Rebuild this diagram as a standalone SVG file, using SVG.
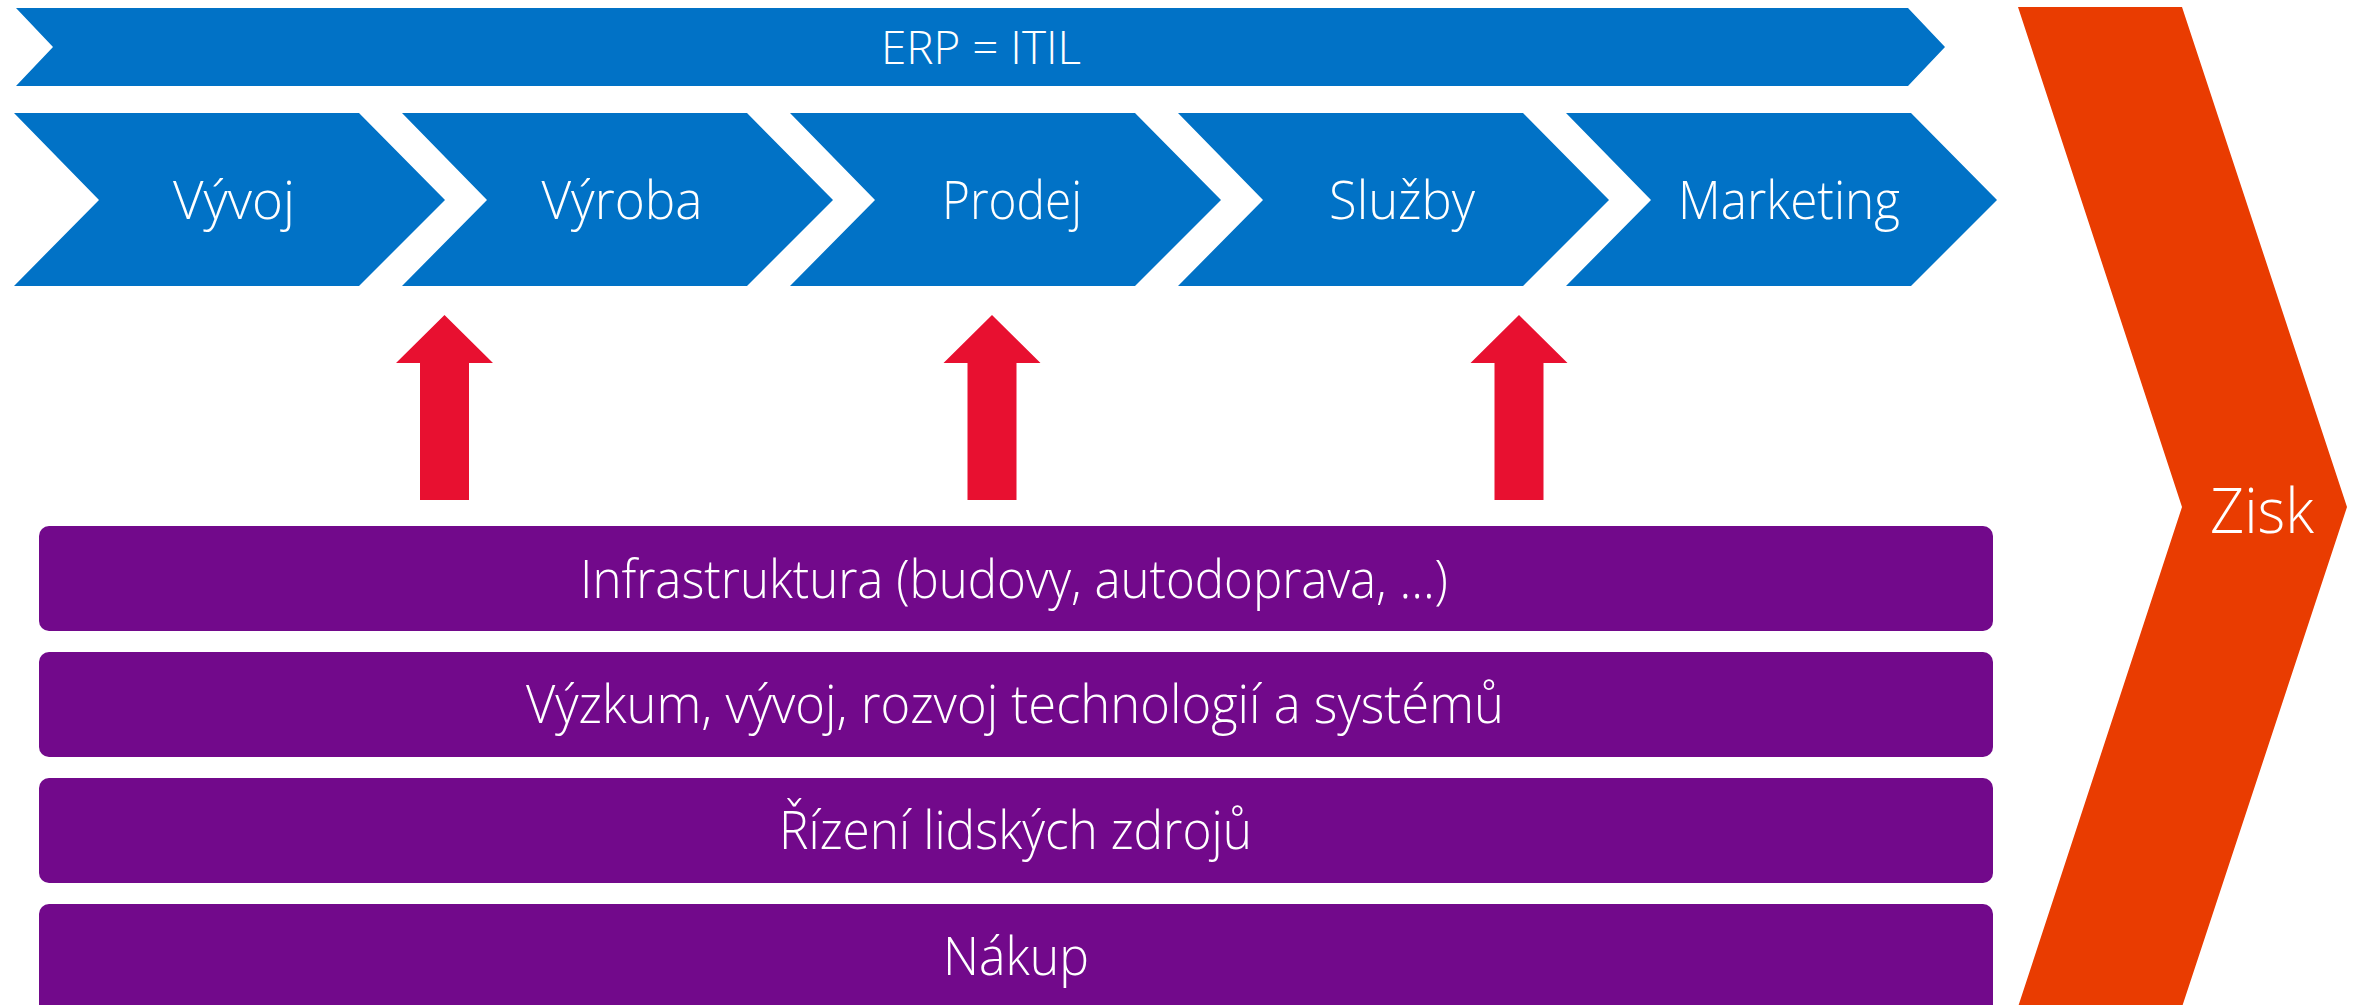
<svg xmlns="http://www.w3.org/2000/svg" width="2359" height="1005" viewBox="0 0 2359 1005">
  <style>
    .blue { fill: #0172C6; }
    .purple { fill: #72098B; }
    .red { fill: #E81030; }
    .orange { fill: #E93C01; }
    .lbl { fill: #FFFFFF; font-family: "Open Sans", "Lato", "Liberation Sans", sans-serif; font-weight: 300; text-anchor: middle; }
    .chev { font-size: 54px; }
    .bar { font-size: 54px; }
  </style>
  <rect width="2359" height="1005" fill="#FFFFFF"/>

  <g id="erp-itil">
    <polygon class="blue" points="16,8 1908,8 1945,47 1908,86 16,86 53,47"/>
    <text class="lbl" x="981" y="64" font-size="46" textLength="200" lengthAdjust="spacingAndGlyphs">ERP = ITIL</text>
  </g>

  <g id="vyvoj">
    <polygon class="blue" points="14,113 359,113 445,200 359,286 14,286 99,200"/>
    <text class="lbl chev" x="234" y="219" textLength="122" lengthAdjust="spacingAndGlyphs">Vývoj</text>
  </g>
  <g id="vyroba">
    <polygon class="blue" points="402,113 747,113 833,200 747,286 402,286 487,200"/>
    <text class="lbl chev" x="622" y="219" textLength="161" lengthAdjust="spacingAndGlyphs">Výroba</text>
  </g>
  <g id="prodej">
    <polygon class="blue" points="790,113 1135,113 1221,200 1135,286 790,286 875,200"/>
    <text class="lbl chev" x="1012" y="219" textLength="140" lengthAdjust="spacingAndGlyphs">Prodej</text>
  </g>
  <g id="sluzby">
    <polygon class="blue" points="1178,113 1523,113 1609,200 1523,286 1178,286 1263,200"/>
    <text class="lbl chev" x="1402" y="219" textLength="146" lengthAdjust="spacingAndGlyphs">Služby</text>
  </g>
  <g id="marketing">
    <polygon class="blue" points="1566,113 1911,113 1997,200 1911,286 1566,286 1651,200"/>
    <text class="lbl chev" x="1789" y="219" textLength="222" lengthAdjust="spacingAndGlyphs">Marketing</text>
  </g>

  <g id="connectors">
    <polygon class="red" points="444.5,315 493,363 469,363 469,500 420,500 420,363 396,363"/>
    <polygon class="red" points="992,315 1040.5,363 1016.5,363 1016.5,500 967.5,500 967.5,363 943.5,363"/>
    <polygon class="red" points="1519,315 1567.5,363 1543.5,363 1543.5,500 1494.5,500 1494.5,363 1470.5,363"/>
  </g>

  <g id="infrastruktura">
    <rect class="purple" x="39" y="526" width="1954" height="105" rx="10"/>
    <text class="lbl bar" x="1014" y="598" textLength="868" lengthAdjust="spacingAndGlyphs">Infrastruktura (budovy, autodoprava, …)</text>
  </g>
  <g id="vyzkum">
    <rect class="purple" x="39" y="652" width="1954" height="105" rx="10"/>
    <text class="lbl bar" x="1015" y="723" textLength="978" lengthAdjust="spacingAndGlyphs">Výzkum, vývoj, rozvoj technologií a systémů</text>
  </g>
  <g id="rizeni">
    <rect class="purple" x="39" y="778" width="1954" height="105" rx="10"/>
    <text class="lbl bar" x="1015.5" y="849" textLength="473" lengthAdjust="spacingAndGlyphs">Řízení lidských zdrojů</text>
  </g>
  <g id="nakup">
    <rect class="purple" x="39" y="904" width="1954" height="110" rx="10"/>
    <text class="lbl bar" x="1016" y="975" textLength="146" lengthAdjust="spacingAndGlyphs">Nákup</text>
  </g>

  <g id="zisk">
    <polygon class="orange" points="2018,7 2182,7 2347,507 2182,1007 2018,1007 2182,507"/>
    <text class="lbl" x="2262" y="533" font-size="62" textLength="104" lengthAdjust="spacingAndGlyphs">Zisk</text>
  </g>
</svg>
